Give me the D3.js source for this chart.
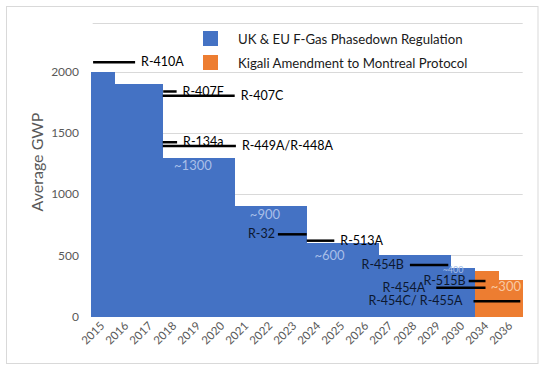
<!DOCTYPE html>
<html>
<head>
<meta charset="utf-8">
<script src="https://cdn.jsdelivr.net/npm/d3@7"></script>
<style>
  body { margin: 0; background: #fff; }
  svg { font-family: Lato, "Open Sans", sans-serif; }
</style>
</head>
<body>
<svg width="545" height="371"></svg>
<script>
// phasedown bars
const years = ["2015", "2016", "2017", "2018", "2019", "2020", "2021", "2022", "2023",
  "2024", "2025", "2026", "2027", "2028", "2029", "2030", "2034", "2036"];
const ukEu = [2000, 1900, 1900, 1300, 1300, 1300, 900, 900, 900,
  600, 600, 600, 500, 500, 500, 400, 0, 0];
const kigali = [0, 0, 0, 0, 0, 0, 0, 0, 0, 0, 0, 0, 0, 0, 0, 0, 375, 300];
const yTicks = [0, 500, 1000, 1500, 2000];

// refrigerant markers (start / end in year slots)
const refNames = ["R-410A", "R-407F", "R-407C", "R-134a", "R-449A/R-448A", "R-32",
  "R-513A", "R-454B", "R-515B", "R-454A", "R-454C/ R-455A"];
const refGwp = [2080, 1840, 1805, 1425, 1395, 672, 620, 421, 290, 236, 125];
const refStart = [0.1, 3.02, 3.0, 3.0, 3.0, 7.8, 9.0, 13.3, 15.75, 14.4, 15.95];
const refEnd = [1.85, 3.58, 6.0, 3.6, 6.05, 9.0, 10.15, 14.9, 16.45, 16.45, 17.9];
const refSide = ["right", "right", "right", "right", "right", "left",
  "right", "left", "left", "left", "left"];

// approximate level notes
const noteText = ["~1300", "~900", "~600", "~400", "~300"];
const noteSlot = [4.26, 7.26, 9.95, 15.1, 17.3];
const noteValue = [1233, 838, 503, 384, 244];

const legendNames = ["UK & EU F-Gas Phasedown Regulation", "Kigali Amendment to Montreal Protocol"];

const svg = d3.select("svg");

const plotLeft = 90.7, plotRight = 522.7, plotBottom = 316.5, plotTop = 23;

const x = d3.scaleBand()
  .domain(years)
  .range([plotLeft, plotRight])
  .padding(0);

const slot = d3.scaleLinear()
  .domain([0, years.length])
  .range([plotLeft, plotRight]);

const y = d3.scaleLinear()
  .domain([0, 2400])
  .range([plotBottom, plotTop]);

const color = d3.scaleOrdinal()
  .domain(legendNames)
  .range(["#4472C4", "#ED7D31"]);

// chart border
svg.append("rect")
  .attr("x", 6.5)
  .attr("y", 6.5)
  .attr("width", 531.5)
  .attr("height", 357)
  .attr("fill", "none")
  .attr("stroke", "#d9d9d9");

// gridlines
svg.append("g")
  .selectAll("line")
  .data(yTicks.slice(1).concat([2400]))
  .join("line")
  .attr("x1", plotLeft + 2)
  .attr("x2", plotRight)
  .attr("y1", d => Math.round(y(d)) + 0.5)
  .attr("y2", d => Math.round(y(d)) + 0.5)
  .attr("stroke", "#d9d9d9");

// bars
const barsG = svg.append("g").attr("shape-rendering", "crispEdges");

barsG.selectAll("rect.ukeu")
  .data(years.map((yr, i) => ({ yr, v: ukEu[i] })).filter(d => d.v > 0))
  .join("rect")
  .attr("class", "ukeu")
  .attr("x", d => x(d.yr))
  .attr("width", x.bandwidth() + 0.5)
  .attr("y", d => y(d.v))
  .attr("height", d => y(0) - y(d.v))
  .attr("fill", color(legendNames[0]));

barsG.selectAll("rect.kigali")
  .data(years.map((yr, i) => ({ yr, v: kigali[i] })).filter(d => d.v > 0))
  .join("rect")
  .attr("class", "kigali")
  .attr("x", d => x(d.yr))
  .attr("width", x.bandwidth() + 0.5)
  .attr("y", d => y(d.v))
  .attr("height", d => y(0) - y(d.v))
  .attr("fill", color(legendNames[1]));

// y axis labels
svg.append("g")
  .selectAll("text")
  .data(yTicks)
  .join("text")
  .attr("x", 79)
  .attr("y", d => y(d))
  .attr("dy", "0.35em")
  .attr("text-anchor", "end")
  .attr("font-size", 12)
  .attr("fill", "#595959")
  .text(d => d);

svg.append("text")
  .attr("transform", `translate(43, 162) rotate(-90)`)
  .attr("text-anchor", "middle")
  .attr("font-size", 16)
  .attr("fill", "#595959")
  .text("Average GWP");

// x axis labels
svg.append("g")
  .selectAll("text")
  .data(years)
  .join("text")
  .attr("transform", d => `translate(${x(d) + x.bandwidth() / 2 + 2.5}, 326.5) rotate(-45)`)
  .attr("text-anchor", "end")
  .attr("font-size", 11.5)
  .attr("fill", "#595959")
  .text(d => d);

// level notes
svg.append("g")
  .selectAll("text")
  .data(noteText)
  .join("text")
  .attr("x", (d, i) => slot(noteSlot[i]))
  .attr("y", (d, i) => y(noteValue[i]))
  .attr("dy", "0.35em")
  .attr("text-anchor", "middle")
  .attr("font-size", d => d === "~400" ? 9 : 13)
  .attr("fill", d => d === "~300" ? "#f8c9a4" : "#a9bfe8")
  .text(d => d);

// refrigerant lines + labels
const refs = refNames.map((name, i) => ({
  name, gwp: refGwp[i], x0: refStart[i], x1: refEnd[i], side: refSide[i]
}));

const refG = svg.append("g");

refG.selectAll("line")
  .data(refs)
  .join("line")
  .attr("x1", d => slot(d.x0))
  .attr("x2", d => slot(d.x1))
  .attr("y1", d => y(d.gwp))
  .attr("y2", d => y(d.gwp))
  .attr("stroke", "#000")
  .attr("stroke-width", 2.5);

// labels left of a long line sit a little further away
refG.selectAll("text")
  .data(refs)
  .join("text")
  .attr("x", d => d.side === "right"
    ? slot(d.x1) + 6
    : slot(d.x0) - (d.x1 - d.x0 > 1.8 ? 11 : d.x1 - d.x0 > 1.4 ? 6 : 3))
  .attr("y", d => y(d.gwp))
  .attr("dy", "0.33em")
  .attr("text-anchor", d => d.side === "right" ? "start" : "end")
  .attr("font-size", 12.5)
  .attr("fill", d => d.side === "right" ? "#000" : "#0c1830")
  .text(d => d.name);

// legend
const legendG = svg.append("g")
  .attr("class", "legend")
  .attr("transform", "translate(203, 31)");

const legendItems = legendG.selectAll("g")
  .data(legendNames)
  .join("g")
  .attr("transform", (d, i) => `translate(0, ${i * 24})`);

legendItems.append("rect")
  .attr("width", 15)
  .attr("height", 15)
  .attr("fill", d => color(d));

legendItems.append("text")
  .attr("x", 35)
  .attr("y", 8)
  .attr("dy", "0.35em")
  .attr("font-size", 13.2)
  .attr("fill", "#1a1a1a")
  .text(d => d);
</script>
</body>
</html>
